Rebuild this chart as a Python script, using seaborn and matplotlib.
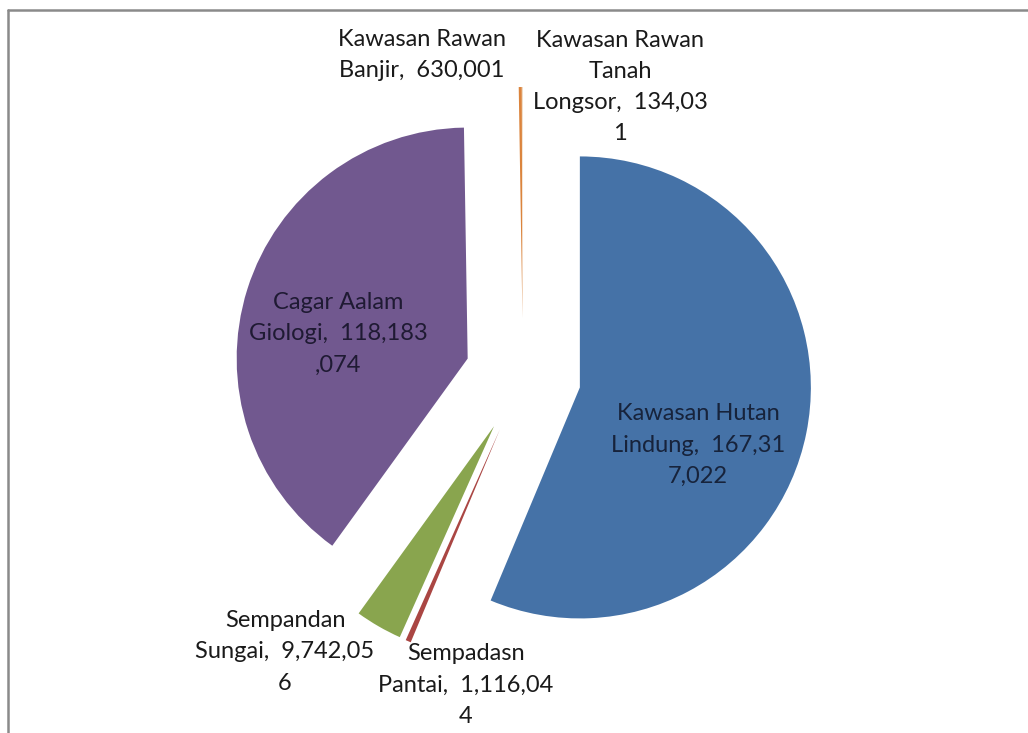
import matplotlib
matplotlib.use("Agg")
import matplotlib.pyplot as plt
import seaborn as sns
from matplotlib.lines import Line2D

sns.set_theme(style="white")
plt.rcParams['font.family'] = ['Lato', 'DejaVu Sans']

categories = ["Kawasan Hutan Lindung", "Sempadasn Pantai", "Sempandan Sungai",
              "Cagar Aalam Giologi", "Kawasan Rawan Banjir", "Kawasan Rawan Tanah Longsor"]
values = [167317022, 1116044, 9742056, 118183074, 630001, 134031]
label_texts = ["Kawasan Hutan\nLindung,  167,31\n7,022",
               "Sempadasn\nPantai,  1,116,04\n4",
               "Sempandan\nSungai,  9,742,05\n6",
               "Cagar Aalam\nGiologi,  118,183\n,074",
               "Kawasan Rawan\nBanjir,  630,001",
               "Kawasan Rawan\nTanah\nLongsor,  134,03\n1"]
colors = ["#4572A7", "#AA4643", "#89A54E", "#71588F", "#DB843D", "#E8C9A6"]

W, H = 1028, 733
fig = plt.figure(figsize=(W / 100, H / 100), dpi=100)
ax = fig.add_axes([0, 0, 1, 1])

cx, cy, r = 523, H - 376, 231
explode_dist = 58  # matplotlib explode is in data units
ax.pie(values, colors=colors, startangle=90, counterclock=False,
       explode=[explode_dist] * len(values), radius=r, center=(cx, cy),
       wedgeprops=dict(linewidth=0), frame=True)
ax.set_xlim(0, W)
ax.set_ylim(0, H)
ax.set_aspect('equal')
ax.axis('off')

# label positions (pixel coords from top-left)
label_pos = [(698, 445), (466, 685), (285, 652), (338, 334), (422, 55), (620, 87)]
label_colors = ["#17233b", "#1a1a1a", "#1a1a1a", "#1f1a33", "#1a1a1a", "#1a1a1a"]
for txt, (px, py), tc in zip(label_texts, label_pos, label_colors):
    ax.text(px, H - py, txt, ha='center', va='center', fontsize=17,
            color=tc, linespacing=1.6)

# chart frame (partially visible)
fig.add_artist(Line2D([8 / W, 1], [1 - 10 / H, 1 - 10 / H], transform=fig.transFigure,
                      color='#8a8a8a', linewidth=1.8))
fig.add_artist(Line2D([8 / W, 8 / W], [0, 1 - 10 / H], transform=fig.transFigure,
                      color='#8a8a8a', linewidth=1.8))

fig.savefig("out.png", dpi=100, facecolor='white')
